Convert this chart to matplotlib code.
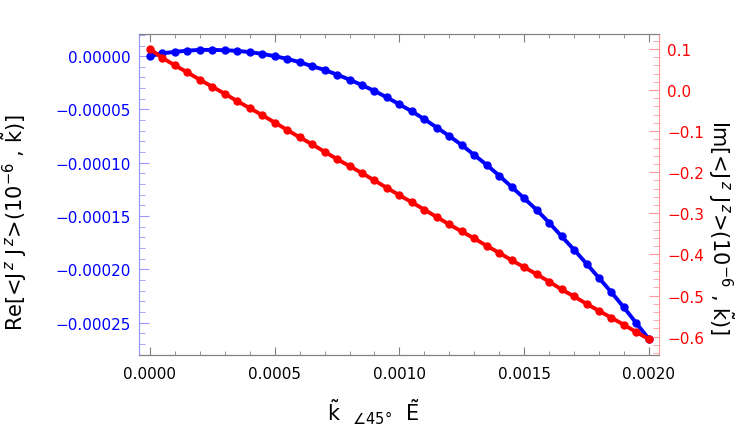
import matplotlib
matplotlib.use("Agg")
import matplotlib.pyplot as plt
import numpy as np
from matplotlib.ticker import MultipleLocator, FuncFormatter

# k values (41 points, step 5e-5)
k = [i * 0.00005 for i in range(41)]

# Re part (left axis)
re_vals = [0.0, 2.8e-6, 4.0e-6, 5.2e-6, 5.9e-6, 5.9e-6, 5.6e-6, 5.0e-6, 3.8e-6, 2.2e-6,
           0.0, -2.5e-6, -5.6e-6, -9.4e-6, -12.9e-6, -17.3e-6, -22.0e-6, -27.2e-6, -32.6e-6, -38.7e-6,
           -45.2e-6, -51.8e-6, -59.1e-6, -67.0e-6, -74.9e-6, -83.4e-6, -92.7e-6, -102.0e-6, -112.1e-6, -122.7e-6,
           -133.3e-6, -144.2e-6, -156.2e-6, -169.0e-6, -181.6e-6, -194.7e-6, -208.1e-6, -221.6e-6, -235.8e-6, -250.6e-6,
           -265.4e-6]

# Im part (right axis)
im_vals = [0.100, 0.078, 0.060, 0.043, 0.025, 0.008, -0.009, -0.027, -0.044, -0.061,
           -0.079, -0.097, -0.115, -0.132, -0.150, -0.168, -0.185, -0.202, -0.220, -0.238,
           -0.256, -0.273, -0.291, -0.309, -0.327, -0.344, -0.361, -0.379, -0.396, -0.414,
           -0.431, -0.448, -0.466, -0.485, -0.502, -0.520, -0.537, -0.554, -0.571, -0.589,
           -0.606]


def fmt(n):
    def f(v, pos):
        s = ('%.' + str(n) + 'f') % v
        if abs(v) < 0.5 * 10 ** (-n):
            s = ('%.' + str(n) + 'f') % 0.0
        return s.replace('-', '\u2212')
    return FuncFormatter(f)


fig = plt.figure(figsize=(7.47, 4.31), dpi=100)
ax = fig.add_axes([0.186, 0.174, 0.696, 0.745])
ax2 = ax.twinx()

ax.plot(k, re_vals, color='#0000ff', lw=2.8, marker='o', ms=5)
ax2.plot(k, im_vals, color='#ff0000', lw=2.8, marker='o', ms=5)

ax.set_xlim(-0.0000441, 0.00204)
ax.set_ylim(-0.0002804, 0.0000209)
ax2.set_ylim(-0.6445, 0.1365)

ax.xaxis.set_major_locator(MultipleLocator(0.0005))
ax.xaxis.set_minor_locator(MultipleLocator(0.0001))
ax.xaxis.set_major_formatter(fmt(4))
ax.yaxis.set_major_locator(MultipleLocator(0.00005))
ax.yaxis.set_minor_locator(MultipleLocator(0.00001))
ax.yaxis.set_major_formatter(fmt(5))
ax2.yaxis.set_major_locator(MultipleLocator(0.1))
ax2.yaxis.set_minor_locator(MultipleLocator(0.02))
ax2.yaxis.set_major_formatter(fmt(1))

lblue = '#9999ff'
lred = '#ff9999'
grey = '#808080'

for a in (ax, ax2):
    a.spines['top'].set_color(grey)
    a.spines['bottom'].set_color(grey)
    a.spines['left'].set_color(lblue)
    a.spines['right'].set_color(lred)

ax.tick_params(axis='x', which='both', direction='in', top=True, colors=grey, labelcolor='black', labelsize=11, pad=8)
ax.tick_params(axis='x', which='major', length=6)
ax.tick_params(axis='x', which='minor', length=3)
ax.tick_params(axis='y', which='both', direction='in', colors=lblue, labelcolor='#0000ff', labelsize=11, pad=6)
ax.tick_params(axis='y', which='major', length=7)
ax.tick_params(axis='y', which='minor', length=4)
ax2.tick_params(axis='y', which='both', direction='in', colors=lred, labelcolor='#ff0000', labelsize=11, pad=6)
ax2.tick_params(axis='y', which='major', length=7)
ax2.tick_params(axis='y', which='minor', length=4)

ax.set_ylabel(r'Re[<J$^{\,z}$ J$^{\,z}$>(10$^{-6}$ , $\tilde{\mathrm{k}}$)]', fontsize=15)
ax.yaxis.set_label_coords(-0.212, 0.415)
ax2.set_ylabel(r'Im[<J$^{\,z}$ J$^{\,z}$>(10$^{-6}$ , $\tilde{\mathrm{k}}$)]', fontsize=15, rotation=270, va='bottom')
ax2.yaxis.set_label_coords(1.09, 0.40)
ax.set_xlabel(r'$\tilde{\mathrm{k}}$  ${}_{\angle 45\degree}$  $\tilde{\mathrm{E}}$', fontsize=15)
ax.xaxis.set_label_coords(0.45, -0.13)

fig.savefig('out.png', dpi=100)
